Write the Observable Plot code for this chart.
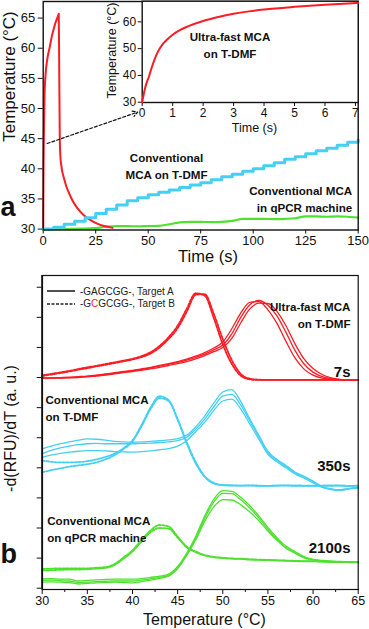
<!DOCTYPE html>
<html>
<head>
<meta charset="utf-8">
<script src="https://cdn.jsdelivr.net/npm/d3@7"></script>
<script src="https://cdn.jsdelivr.net/npm/@observablehq/plot@0.6"></script>
<style>
  html, body { margin: 0; padding: 0; background: white; }
  #wrap { position: relative; width: 369px; height: 629px; overflow: hidden; background: white; }
  #wrap > svg, #wrap > div { position: absolute; left: 0; }
  #legend { font-family: 'Liberation Sans', Arial, sans-serif; font-size: 10px; color: #222; }
</style>
</head>
<body>
<div id="wrap"></div>
<script>
// ---------- Panel a: temperature profiles ----------
const redTimeA = [0,0.15,0.3,0.6,1,2,3,4,5,6,7,7.4,7.6,7.9,8.2,8.6,9,10,11,12,14,16,19.3,22,25.7,29,33];
const redTempA = [30,40,45,52,55,58.3,60,61.8,63.2,64.4,65.3,65.7,58,45,42,40.6,39.7,38.3,37.1,36.2,34.7,33.6,32.3,31.6,30.9,30.5,30.2];

const stepTime = [0,5,10,15,20,25,30,35,40,45,50,55,60,65,70,75,80,85,90,95,100,105,110,115,120,125,130,135,140,145,150];
const cyanTempA = [30.0,30.3,30.8,31.3,31.9,32.6,33.3,34.0,34.7,35.2,35.7,36.1,36.5,36.9,37.3,37.7,38.2,38.7,39.1,39.6,40.0,40.5,41.0,41.6,42.0,42.5,43.0,43.4,43.9,44.4,44.8];
const greenTempA = [30.0,30.0,30.0,30.05,30.1,30.15,30.4,30.5,30.5,30.45,30.5,30.55,30.8,31.1,31.2,31.2,31.15,31.2,31.35,31.7,31.7,31.7,31.65,31.7,31.8,32.1,32.1,32.05,32.1,32.05,31.9];

const insetTime = [0,0.05,0.1,0.15,0.22,0.3,0.4,0.5,0.65,0.82,1,1.25,1.5,2,2.5,3,3.5,4,5,6,7,7.09];
const insetTemp = [30,33,35.5,37.4,39.5,42.5,45.8,48.5,51.3,53.4,55.2,57.0,58.3,60.3,61.8,63.0,63.9,64.6,65.6,66.4,67.0,67.05];

const xTicksA = [0,25,50,75,100,125,150];
const yTicksA = [30,35,40,45,50,55,60,65];
const xTicksInset = [0,1,2,3,4,5,6,7];
const yTicksInset = [30,40,50,60];
const arrowA = [{x1: 1.9, y1: 44.2, x2: 45, y2: 49.4}];

// ---------- Panel b: melting curves ----------
const tempB = [30,31,32,33,34,35,36,37,38,39,40,41,42,43,44,45,46,47,48,49,50,51,52,53,54,55,56,57,58,59,60,61,62,63,64,65];
const redSolid1 = [6.99,6.99,7.00,7.01,7.03,7.05,7.08,7.12,7.16,7.20,7.24,7.29,7.34,7.40,7.46,7.53,7.61,7.71,7.83,7.98,8.18,8.62,9.15,9.50,9.52,9.25,8.80,8.20,7.65,7.28,7.08,6.98,6.94,6.92,6.92,6.92];
const redSolid2 = [6.98,6.98,6.99,7.00,7.02,7.04,7.07,7.10,7.14,7.18,7.22,7.27,7.32,7.38,7.44,7.50,7.58,7.67,7.78,7.92,8.08,8.45,9.00,9.42,9.56,9.40,9.05,8.50,7.90,7.45,7.18,7.03,6.96,6.93,6.92,6.92];
const redSolid3 = [6.98,6.98,6.98,6.99,7.00,7.02,7.05,7.08,7.12,7.16,7.20,7.24,7.29,7.34,7.40,7.46,7.53,7.62,7.73,7.86,8.00,8.30,8.82,9.28,9.47,9.46,9.20,8.72,8.12,7.62,7.30,7.10,6.99,6.94,6.92,6.92];
const redDash1 = [7.07,7.12,7.17,7.22,7.28,7.34,7.39,7.45,7.50,7.56,7.62,7.71,7.84,8.05,8.34,8.72,9.28,9.80,9.72,8.98,8.10,7.45,7.06,6.94,6.92,6.92,6.92,6.92,6.92,6.92,6.92,6.92,6.92,6.92,6.92,6.92];
const redDash2 = [7.05,7.10,7.15,7.20,7.26,7.31,7.37,7.42,7.48,7.54,7.60,7.68,7.80,8.00,8.28,8.64,9.18,9.75,9.77,9.12,8.28,7.58,7.12,6.96,6.93,6.92,6.92,6.92,6.92,6.92,6.92,6.92,6.92,6.92,6.92,6.92];
const cyanSolid1 = [4.63,4.72,4.80,4.86,4.92,4.96,4.95,4.92,4.88,4.86,4.85,4.86,4.88,4.90,4.93,4.97,5.08,5.36,5.72,6.15,6.52,6.60,6.20,5.62,5.08,4.55,4.28,4.08,3.86,3.72,3.56,3.38,3.30,3.27,3.32,3.34];
const cyanSolid2 = [4.47,4.58,4.66,4.72,4.77,4.80,4.81,4.80,4.80,4.80,4.80,4.81,4.82,4.84,4.86,4.90,5.02,5.28,5.62,6.02,6.38,6.44,6.08,5.55,5.02,4.50,4.24,4.04,3.84,3.70,3.54,3.37,3.29,3.26,3.31,3.34];
const cyanSolid3 = [4.35,4.42,4.48,4.52,4.55,4.57,4.57,4.56,4.54,4.53,4.52,4.54,4.56,4.60,4.64,4.72,4.90,5.20,5.52,5.90,6.22,6.28,5.95,5.45,4.95,4.45,4.20,4.00,3.80,3.66,3.50,3.35,3.28,3.25,3.30,3.33];
const cyanDash1 = [4.24,4.20,4.18,4.18,4.19,4.22,4.28,4.36,4.47,4.65,4.91,5.42,6.00,6.38,6.25,5.60,4.82,4.15,3.70,3.48,3.42,3.41,3.41,3.42,3.41,3.40,3.41,3.42,3.42,3.41,3.40,3.41,3.42,3.41,3.40,3.41];
const cyanDash2 = [3.85,3.92,3.98,4.04,4.08,4.12,4.18,4.28,4.42,4.62,4.88,5.38,5.95,6.32,6.22,5.62,4.86,4.20,3.72,3.50,3.43,3.42,3.41,3.41,3.40,3.40,3.41,3.41,3.40,3.40,3.41,3.40,3.40,3.41,3.40,3.40];
const greenSolid1 = [0.31,0.32,0.30,0.30,0.24,0.26,0.28,0.29,0.30,0.30,0.30,0.32,0.36,0.40,0.47,0.72,1.16,1.72,2.40,2.95,3.24,3.22,3.02,2.74,2.40,2.02,1.68,1.40,1.22,1.05,0.96,0.92,0.90,0.89,0.88,0.87];
const greenSolid2 = [0.26,0.27,0.25,0.24,0.19,0.20,0.22,0.23,0.24,0.24,0.24,0.27,0.31,0.36,0.43,0.68,1.12,1.66,2.32,2.86,3.15,3.14,2.94,2.66,2.33,1.96,1.63,1.36,1.19,1.03,0.95,0.91,0.89,0.88,0.87,0.86];
const greenSolid3 = [0.20,0.21,0.20,0.19,0.14,0.16,0.18,0.19,0.20,0.19,0.18,0.22,0.27,0.33,0.40,0.65,1.08,1.60,2.22,2.70,2.94,2.93,2.77,2.53,2.24,1.90,1.59,1.33,1.16,1.01,0.94,0.90,0.88,0.87,0.86,0.86];
const greenDash1 = [0.64,0.65,0.66,0.66,0.66,0.66,0.68,0.70,0.80,1.02,1.26,1.60,1.92,2.10,2.05,1.72,1.38,1.22,1.10,1.04,1.01,0.99,0.98,0.96,0.95,0.94,0.93,0.92,0.91,0.90,0.90,0.89,0.88,0.87,0.87,0.86];
const greenDash2 = [0.59,0.60,0.61,0.62,0.62,0.63,0.65,0.67,0.77,0.98,1.22,1.55,1.86,2.00,1.98,1.68,1.36,1.20,1.09,1.03,1.00,0.98,0.97,0.95,0.94,0.93,0.92,0.91,0.90,0.89,0.89,0.88,0.87,0.87,0.86,0.86];

const xTicksB = [30,35,40,45,50,55,60,65];
const xMinorB = [32.5,37.5,42.5,47.5,52.5,57.5,62.5];
const yTicksB = [0,1,2,3,4,5,6,7,8,9,10];

// ---------- styling ----------
const RED = "#fb1c24", CYAN = "#45d0f3", GREEN = "#4ee12f";
const FONT = "'Liberation Sans', Arial, sans-serif";
const wrap = document.getElementById("wrap");

function lab(text, px, py, m, o) {
  return Plot.text([text], Object.assign({frameAnchor: "top-left", lineAnchor: "middle", dx: px - m.left, dy: py - m.top, text: d => d, fill: "#111"}, o));
}
const zipXY = (xs, ys) => xs.map((x, i) => ({x, y: ys[i]}));
const rowsB = (arr, id) => tempB.map((t, i) => ({t, v: arr[i], id}));
const bold = {fontWeight: "bold", fontFamily: FONT, fontSize: 11.6, lineHeight: 1.45};

// ---- main panel a ----
const mA = {left: 42.7, right: 11.3, top: 1, bottom: 35.5};
const plotA = Plot.plot({
  width: 369, height: 265,
  marginLeft: mA.left, marginRight: mA.right, marginTop: mA.top, marginBottom: mA.bottom,
  x: {domain: [0, 150]},
  y: {domain: [29.85, 67.75]},
  style: {background: "transparent", fontFamily: FONT, overflow: "visible", color: "#111"},
  marks: [
    Plot.axisX({ticks: xTicksA, tickSize: 4, tickPadding: 2, label: null, fontSize: 13}),
    Plot.axisY({ticks: yTicksA, tickSize: 5, tickPadding: 3, label: null, fontSize: 13}),
    Plot.line(zipXY(stepTime, greenTempA), {x: "x", y: "y", stroke: GREEN, strokeWidth: 2.2, curve: "monotone-x"}),
    Plot.line(zipXY(redTimeA, redTempA), {x: "x", y: "y", stroke: RED, strokeWidth: 2, curve: "monotone-x"}),
    Plot.line(zipXY(stepTime, cyanTempA), {x: "x", y: "y", stroke: CYAN, strokeWidth: 3, curve: "step-after"}),
    Plot.arrow(arrowA, {x1: "x1", y1: "y1", x2: "x2", y2: "y2", stroke: "#111", strokeWidth: 1.2, strokeDasharray: "3,2", headLength: 7, bend: false}),
    Plot.frame({stroke: "#111", strokeWidth: 1.4}),
    lab("Conventional\nMCA on T-DMF", 166, 164.4, mA, Object.assign({textAnchor: "middle"}, bold)),
    lab("Conventional MCA\nin qPCR machine", 351.7, 197.5, mA, Object.assign({textAnchor: "end"}, bold)),
    lab("Time (s)", 207.5, 256.7, mA, {textAnchor: "middle", fontSize: 16.5}),
    lab("Temperature (°C)", 9, 76, mA, {textAnchor: "middle", fontSize: 17, rotate: -90}),
    lab("a", 7.5, 207, mA, {textAnchor: "middle", fontSize: 27, fontWeight: "bold"})
  ]
});
plotA.style.top = "0px";
wrap.appendChild(plotA);

// ---- inset ----
const mI = {left: 141.7, right: 11.3, top: 0.7, bottom: 33};
const plotI = Plot.plot({
  width: 369, height: 135,
  marginLeft: mI.left, marginRight: mI.right, marginTop: mI.top, marginBottom: mI.bottom,
  x: {domain: [0, 7.09]},
  y: {domain: [29.9, 67.7]},
  style: {background: "transparent", fontFamily: FONT, overflow: "visible", color: "#111"},
  marks: [
    Plot.frame({fill: "white", stroke: "#111", strokeWidth: 1.4}),
    Plot.axisX({ticks: xTicksInset, tickSize: 4, tickPadding: 2, label: null, fontSize: 12}),
    Plot.axisY({ticks: yTicksInset, tickSize: 4, tickPadding: 2, label: null, fontSize: 12}),
    Plot.line(zipXY(insetTime, insetTemp), {x: "x", y: "y", stroke: RED, strokeWidth: 2, curve: "monotone-x"}),
    lab("Ultra-fast MCA\non T-DMF", 229.5, 43.3, mI, Object.assign({textAnchor: "middle"}, bold, {lineHeight: 1.5})),
    lab("Time (s)", 254, 127, mI, {textAnchor: "middle", fontSize: 12.5}),
    lab("Temperature (°C)", 111.7, 50, mI, {textAnchor: "middle", fontSize: 12.5, rotate: -90})
  ]
});
plotI.style.top = "0px";
wrap.appendChild(plotI);

// ---- panel b ----
const TOPB = 265;
const mB = {left: 41.7, right: 11.3, top: 10, bottom: 40};
const labB = (text, px, py, o) => lab(text, px, py - TOPB, mB, o);
const plotB = Plot.plot({
  width: 369, height: 364,
  marginLeft: mB.left, marginRight: mB.right, marginTop: mB.top, marginBottom: mB.bottom,
  x: {domain: [30, 65]},
  y: {domain: [-0.043, 10.39]},
  style: {background: "transparent", fontFamily: FONT, overflow: "visible", color: "#111"},
  marks: [
    Plot.axisX({ticks: xTicksB, tickSize: 5, tickPadding: 2, label: null, fontSize: 12.5}),
    Plot.axisX({ticks: xMinorB, tickSize: 3, tickFormat: () => "", label: null}),
    Plot.axisY({ticks: yTicksB, tickSize: 5, tickFormat: () => "", label: null}),
    Plot.line(rowsB(greenDash1, "g1").concat(rowsB(greenDash2, "g2")), {x: "t", y: "v", z: "id", stroke: GREEN, strokeWidth: 1.8, strokeDasharray: "2.5,1.5", curve: "monotone-x"}),
    Plot.line(rowsB(greenSolid1, "s1").concat(rowsB(greenSolid2, "s2"), rowsB(greenSolid3, "s3")), {x: "t", y: "v", z: "id", stroke: GREEN, strokeWidth: 1.3, curve: "monotone-x"}),
    Plot.line(rowsB(cyanDash1, "c1").concat(rowsB(cyanDash2, "c2")), {x: "t", y: "v", z: "id", stroke: CYAN, strokeWidth: 1.8, strokeDasharray: "2.5,1.5", curve: "monotone-x"}),
    Plot.line(rowsB(cyanSolid1, "s1").concat(rowsB(cyanSolid2, "s2"), rowsB(cyanSolid3, "s3")), {x: "t", y: "v", z: "id", stroke: CYAN, strokeWidth: 1.3, curve: "monotone-x"}),
    Plot.line(rowsB(redDash1, "r1").concat(rowsB(redDash2, "r2")), {x: "t", y: "v", z: "id", stroke: RED, strokeWidth: 1.8, strokeDasharray: "2.5,1.5", curve: "monotone-x"}),
    Plot.line(rowsB(redSolid1, "s1").concat(rowsB(redSolid2, "s2"), rowsB(redSolid3, "s3")), {x: "t", y: "v", z: "id", stroke: RED, strokeWidth: 1.3, curve: "monotone-x"}),
    Plot.frame({stroke: "#111", strokeWidth: 1.2}),
    Plot.ruleX([30], {stroke: "#111", strokeWidth: 1.8}),
    labB("Ultra-fast MCA\non T-DMF", 350, 313.9, Object.assign({textAnchor: "end"}, bold)),
    labB("7s", 350, 371.7, {textAnchor: "end", fontWeight: "bold", fontSize: 15}),
    labB("Conventional MCA\non T-DMF", 45, 406.5, Object.assign({textAnchor: "start"}, bold)),
    labB("350s", 350, 466, {textAnchor: "end", fontWeight: "bold", fontSize: 15}),
    labB("Conventional MCA\non qPCR machine", 46.7, 527.5, Object.assign({textAnchor: "start"}, bold)),
    labB("2100s", 350, 548, {textAnchor: "end", fontWeight: "bold", fontSize: 15}),
    labB("Temperature (°C)", 204, 619, {textAnchor: "middle", fontSize: 16}),
    labB("-d(RFU)/dT (a. u.)", 10, 428, {textAnchor: "middle", fontSize: 16, rotate: -90}),
    labB("b", 8.3, 554, {textAnchor: "middle", fontSize: 27, fontWeight: "bold"})
  ]
});
plotB.style.top = TOPB + "px";
wrap.appendChild(plotB);

// ---- legend (HTML overlay) ----
const legendRows = [
  {dash: null, html: "-GAGCGG-, Target A"},
  {dash: "3,1.5", html: "-G<span style=\"color:" + RED + "\">C</span>GCGG-, Target B"}
];
const legend = document.createElement("div");
legend.id = "legend";
legend.style.left = "47px";
legend.style.top = "285px";
legend.innerHTML = legendRows.map(r =>
  '<div style="display:flex;align-items:center;height:12.6px;white-space:nowrap">' +
  '<svg width="29" height="6" style="margin-right:4px"><line x1="0" y1="3" x2="28" y2="3" stroke="#222" stroke-width="1.6"' +
  (r.dash ? ' stroke-dasharray="' + r.dash + '"' : '') + '/></svg><span>' + r.html + '</span></div>'
).join("");
wrap.appendChild(legend);
</script>
</body>
</html>
